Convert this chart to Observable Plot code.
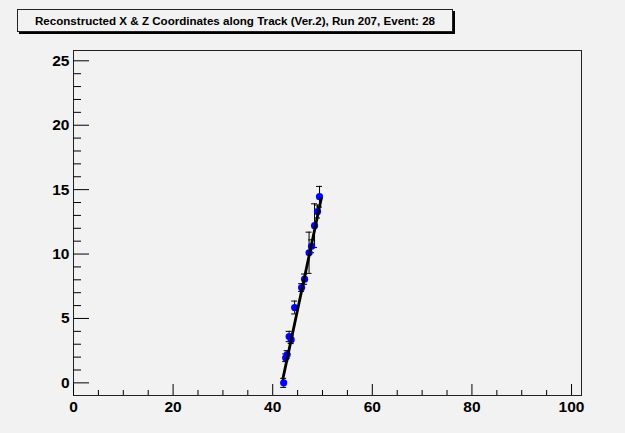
<!DOCTYPE html>
<html>
<head>
<meta charset="utf-8">
<script src="https://cdn.jsdelivr.net/npm/d3@7"></script>
<script src="https://cdn.jsdelivr.net/npm/@observablehq/plot@0.6"></script>
<style>
  html, body { margin: 0; padding: 0; background: #f2f2f2; }
  #wrap { position: relative; width: 625px; height: 433px; }
  #title {
    position: absolute; left: 17px; top: 9px; width: 434px; height: 21px;
    border: 1px solid #222; box-shadow: 2px 2px 0 #000; background: #f2f2f2;
    font-family: "Liberation Sans", Arial, sans-serif; font-weight: bold; font-size: 11.6px;
    line-height: 21px; text-align: center; color: #000;
  }
</style>
</head>
<body>
<div id="wrap">
  <div id="chart"></div>
  <div id="title">Reconstructed X &amp; Z Coordinates along Track (Ver.2), Run 207, Event: 28</div>
</div>
<script>
// Measured points along the track
const xPos = [42.2, 42.6, 42.9, 43.3, 43.7, 44.4, 45.8, 46.4, 47.3, 47.8, 48.4, 49.0, 49.4];
const zPos = [0.0, 1.95, 2.2, 3.6, 3.35, 5.85, 7.4, 8.05, 10.1, 10.6, 12.2, 13.3, 14.45];
const zErr = [0.35, 0.3, 0.3, 0.4, 0.3, 0.5, 0.3, 0.4, 1.6, 0.5, 1.7, 0.5, 0.8];
// Fitted line end points
const fitX = [42.05, 49.74];
const fitZ = [0.33, 14.29];
// Axis ticks
const xMajor = [0, 20, 40, 60, 80, 100];
const xMinor = [5, 10, 15, 25, 30, 35, 45, 50, 55, 65, 70, 75, 85, 90, 95];
const yMajor = [0, 5, 10, 15, 20, 25];
const yMinor = [1, 2, 3, 4, 6, 7, 8, 9, 11, 12, 13, 14, 16, 17, 18, 19, 21, 22, 23, 24];

const pts = xPos.map((x, i) => ({x, z: zPos[i], e: zErr[i]}));
const fit = fitX.map((x, i) => ({x, z: fitZ[i]}));

const chart = Plot.plot({
  width: 625,
  height: 433,
  marginLeft: 73,
  marginRight: 44,
  marginTop: 50,
  marginBottom: 38,
  style: {background: "#f2f2f2", fontFamily: "'Liberation Sans', Arial, sans-serif", fontSize: "15.5px", fontWeight: "bold", color: "#000"},
  x: {domain: [0, 102]},
  y: {domain: [-0.98, 25.8]},
  marks: [
    Plot.frame({stroke: "#222", strokeWidth: 1}),
    Plot.axisX({ticks: xMajor, tickSize: 0, tickPadding: 5, label: null, tickFormat: d => String(d)}),
    Plot.axisX({ticks: xMajor, tickSize: -11, tickFormat: () => "", label: null}),
    Plot.axisX({ticks: xMinor, tickSize: -5, tickFormat: () => "", label: null}),
    Plot.axisY({ticks: yMajor, tickSize: 0, tickPadding: 4, label: null, tickFormat: d => String(d)}),
    Plot.axisY({ticks: yMajor, tickSize: -16, tickFormat: () => "", label: null}),
    Plot.axisY({ticks: yMinor, tickSize: -8, tickFormat: () => "", label: null}),
    Plot.ruleX(pts, {x: "x", y1: d => d.z - d.e, y2: d => d.z + d.e, stroke: "#000", strokeWidth: 1}),
    Plot.ruleY(pts, {y: d => d.z + d.e, x1: d => d.x - 0.6, x2: d => d.x + 0.6, stroke: "#000", strokeWidth: 1}),
    Plot.ruleY(pts, {y: d => d.z - d.e, x1: d => d.x - 0.6, x2: d => d.x + 0.6, stroke: "#000", strokeWidth: 1}),
    Plot.dot(pts, {x: "x", y: "z", r: 3.6, fill: "#0000ff", stroke: "none"}),
    Plot.line(fit, {x: "x", y: "z", stroke: "#000", strokeWidth: 2.8})
  ]
});
document.getElementById("chart").appendChild(chart);
</script>
</body>
</html>
